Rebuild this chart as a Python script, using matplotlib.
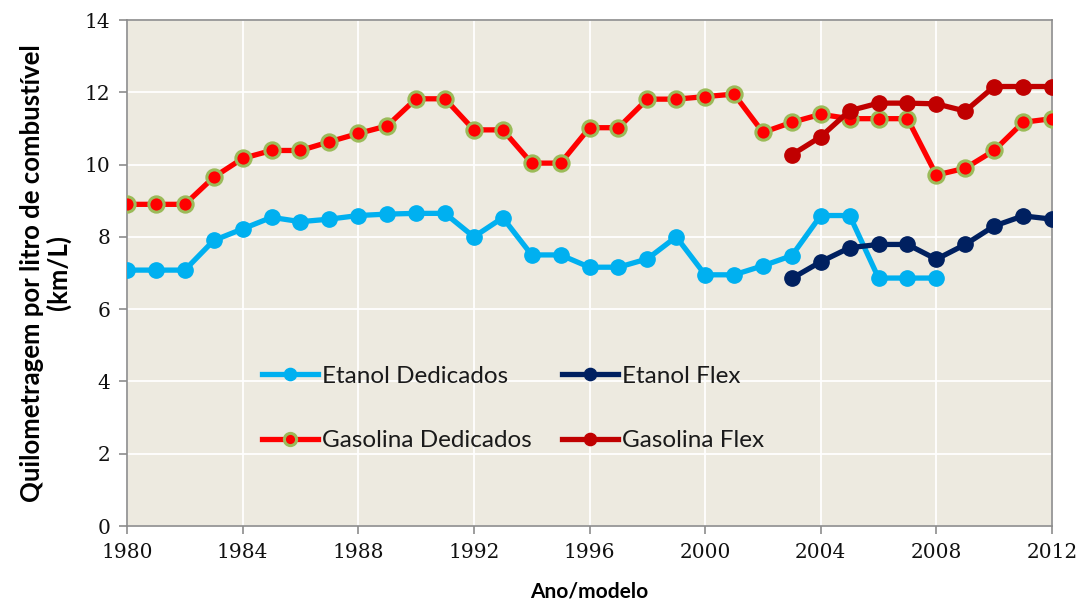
import matplotlib
matplotlib.use("Agg")
import matplotlib.pyplot as plt

years = list(range(1980, 2013))
years_flex = list(range(2003, 2013))
years_etanol_ded = list(range(1980, 2009))

etanol_dedicados = [7.08, 7.08, 7.08, 7.9, 8.22, 8.54, 8.42, 8.49, 8.59, 8.63,
                    8.65, 8.65, 8.0, 8.53, 7.5, 7.5, 7.16, 7.16, 7.39, 8.0,
                    6.95, 6.95, 7.2, 7.48, 8.59, 8.59, 6.86, 6.86, 6.86]
gasolina_dedicados = [8.9, 8.9, 8.9, 9.65, 10.17, 10.39, 10.39, 10.63, 10.86, 11.07,
                      11.82, 11.82, 10.96, 10.96, 10.04, 10.04, 11.02, 11.02, 11.81, 11.81,
                      11.88, 11.95, 10.89, 11.17, 11.39, 11.27, 11.27, 11.27, 9.71, 9.9,
                      10.39, 11.17, 11.27]
etanol_flex = [6.85, 7.31, 7.7, 7.79, 7.79, 7.38, 7.79, 8.3, 8.58, 8.49]
gasolina_flex = [10.27, 10.77, 11.49, 11.7, 11.7, 11.68, 11.48, 12.16, 12.16, 12.16]

x_ticks = [1980, 1984, 1988, 1992, 1996, 2000, 2004, 2008, 2012]
y_ticks = [0, 2, 4, 6, 8, 10, 12, 14]

fig = plt.figure(figsize=(10.83, 6.05), dpi=100)
ax = fig.add_axes([127 / 1083, 1 - 526 / 605, (1052 - 127) / 1083, (526 - 20) / 605])
ax.set_facecolor("#EDEAE0")

lw = 3.8
ms = 11
l1, = ax.plot(years_etanol_ded, etanol_dedicados, color="#00B0F0", lw=lw,
              marker="o", ms=ms, mec="#00B0F0", label="Etanol Dedicados", zorder=3)
l2, = ax.plot(years, gasolina_dedicados, color="#FF0000", lw=lw,
              marker="o", ms=ms, mfc="#FF0000", mec="#9BBB59", mew=2.2,
              label="Gasolina Dedicados", zorder=3)
l3, = ax.plot(years_flex, etanol_flex, color="#002060", lw=lw,
              marker="o", ms=ms, mec="#002060", label="Etanol Flex", zorder=4)
l4, = ax.plot(years_flex, gasolina_flex, color="#C00000", lw=lw,
              marker="o", ms=ms, mec="#C00000", label="Gasolina Flex", zorder=4)

ax.set_xlim(1980, 2012)
ax.set_ylim(0, 14)
ax.set_xticks(x_ticks)
ax.set_yticks(y_ticks)
ax.grid(True, color="white", lw=1.3, zorder=0)
ax.set_axisbelow(True)
for s in ax.spines.values():
    s.set_color("#8C8C8C")
    s.set_linewidth(1.2)
ax.tick_params(direction="out", length=6, color="#8C8C8C", width=1.2, pad=6)
for lab in ax.get_xticklabels() + ax.get_yticklabels():
    lab.set_fontfamily("DejaVu Serif")
    lab.set_fontsize(14.5)
    lab.set_color("#111111")

ax.set_ylabel("Quilometragem por litro de combustível\n(km/L)", fontfamily="Lato",
              fontweight="bold", fontsize=18.5, linespacing=1.05, labelpad=10)
ax.set_xlabel("Ano/modelo", fontfamily="Lato", fontweight="bold", fontsize=15, labelpad=14)

leg = ax.legend(handles=[l1, l2, l3, l4], ncol=2, frameon=False,
                loc="upper left", bbox_to_anchor=(0.146, 0.317),
                prop={"family": "Lato", "size": 17.5},
                handlelength=2.3, handletextpad=0.17, labelspacing=1.8,
                columnspacing=1.25, borderpad=0, borderaxespad=0, markerscale=0.8)
for t in leg.get_texts():
    t.set_color("#1a1a1a")

fig.savefig("out.png", dpi=100)
